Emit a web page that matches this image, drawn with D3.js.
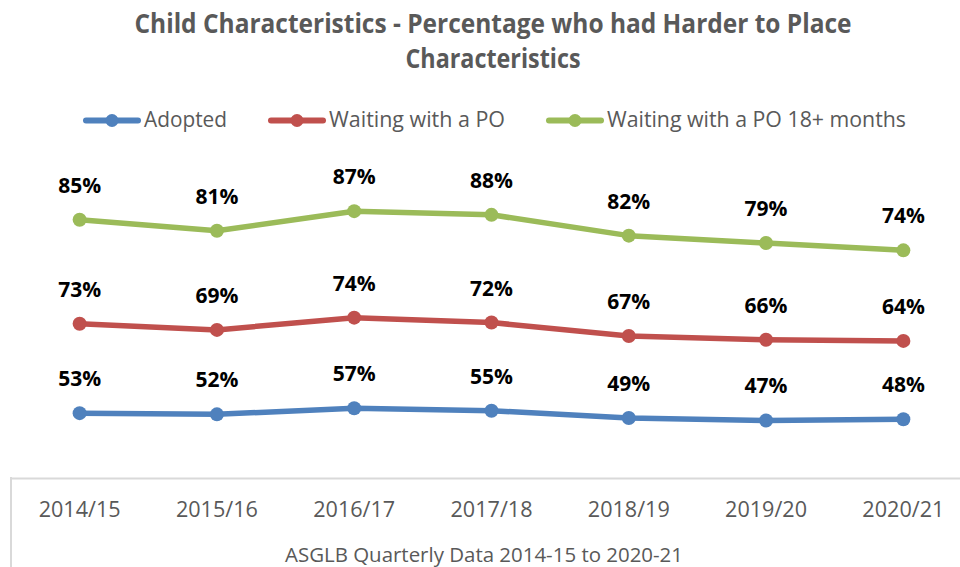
<!DOCTYPE html>
<html>
<head>
<meta charset="utf-8">
<script src="https://cdn.jsdelivr.net/npm/d3@7"></script>
<style>
  body { margin: 0; background: #fff; }
  svg { display: block; }
</style>
</head>
<body>
<div id="chart"></div>
<script>
/* Data */
const categories = ['2014/15', '2015/16', '2016/17', '2017/18', '2018/19', '2019/20', '2020/21'];
const adopted = [53, 52, 57, 55, 49, 47, 48];
const waitingPO = [73, 69, 74, 72, 67, 66, 64];
const waitingPO18 = [85, 81, 87, 88, 82, 79, 74];
const seriesNames = ['Adopted', 'Waiting with a PO', 'Waiting with a PO 18+ months'];
const titleLines = ['Child Characteristics - Percentage who had Harder to Place', 'Characteristics'];
const axisTitle = 'ASGLB Quarterly Data 2014-15 to 2020-21';

const colours = ['#4f81bd', '#c0504d', '#9bbb59'];
const width = 960,
  height = 567;
const narrow = '"Liberation Sans Narrow", "Open Sans", sans-serif';

const svg = d3
  .select('#chart')
  .append('svg')
  .attr('width', width)
  .attr('height', height);

// rows for the stack (it's a stacked line chart, labels show own values)
const rows = categories.map((c, i) => ({
  cat: c,
  [seriesNames[0]]: adopted[i],
  [seriesNames[1]]: waitingPO[i],
  [seriesNames[2]]: waitingPO18[i],
}));
const stacked = d3.stack().keys(seriesNames)(rows);

const x = d3.scaleBand().domain(categories).range([11, 972]);
const y = d3.scaleLinear().domain([0, 250]).range([478, 172]);
const cx = (d) => x(d) + x.bandwidth() / 2;

// Title
svg
  .append('g')
  .selectAll('text')
  .data(titleLines)
  .join('text')
  .attr('x', 493)
  .attr('y', (d, i) => 33 + i * 35)
  .attr('text-anchor', 'middle')
  .attr('textLength', (d, i) => (i == 0 ? 717 : 175))
  .attr('lengthAdjust', 'spacingAndGlyphs')
  .style('font-family', narrow)
  .style('font-weight', 'bold')
  .style('font-size', '26px')
  .style('fill', '#595959')
  .text((d) => d);

// Legend
const legendWidths = [83, 176, 299];
const itemW = legendWidths.map((w) => 56 + 4 + w);
const legendTotal = d3.sum(itemW) + 42 * (itemW.length - 1);
let lx = 495 - legendTotal / 2;
const legend = svg.append('g').attr('class', 'legend');
seriesNames.forEach((name, i) => {
  const g = legend.append('g').attr('transform', `translate(${lx}, 0)`);
  g.append('line')
    .attr('x1', 2)
    .attr('x2', 54)
    .attr('y1', 120.5)
    .attr('y2', 120.5)
    .attr('stroke', colours[i])
    .attr('stroke-width', 6)
    .attr('stroke-linecap', 'round');
  g.append('circle').attr('cx', 28).attr('cy', 120.5).attr('r', 6.5).attr('fill', colours[i]);
  g.append('text')
    .attr('x', 60)
    .attr('y', 127)
    .attr('textLength', legendWidths[i])
    .attr('lengthAdjust', 'spacingAndGlyphs')
    .style('font-family', narrow)
    .style('font-size', '21px')
    .style('fill', '#595959')
    .text(name);
  lx += itemW[i] + 42;
});

// X axis
const xAxis = svg
  .append('g')
  .attr('transform', `translate(0, ${y(0)})`)
  .call(d3.axisBottom(x).tickSize(0).tickSizeOuter(0));
xAxis.select('.domain').attr('stroke', '#d9d9d9').attr('stroke-width', 2);
xAxis
  .selectAll('.tick text')
  .attr('y', 39)
  .attr('dy', null)
  .attr('textLength', 82)
  .attr('lengthAdjust', 'spacingAndGlyphs')
  .style('font-family', narrow)
  .style('font-size', '21px')
  .style('fill', '#595959');

svg
  .append('line')
  .attr('x1', 11)
  .attr('x2', 11)
  .attr('y1', y(0) - 1)
  .attr('y2', height)
  .attr('stroke', '#d9d9d9')
  .attr('stroke-width', 2);

svg
  .append('text')
  .attr('x', 484)
  .attr('y', 562)
  .attr('text-anchor', 'middle')
  .attr('textLength', 398)
  .attr('lengthAdjust', 'spacingAndGlyphs')
  .style('font-family', narrow)
  .style('font-size', '20px')
  .style('fill', '#595959')
  .text(axisTitle);

// Lines
const line = d3
  .line()
  .x((d) => cx(d.data.cat))
  .y((d) => y(d[1]));

const series = svg
  .append('g')
  .selectAll('g.series')
  .data(stacked)
  .join('g')
  .attr('class', 'series');

series
  .append('path')
  .attr('d', line)
  .attr('fill', 'none')
  .attr('stroke', (d, i) => colours[i])
  .attr('stroke-width', 5.5)
  .attr('stroke-linejoin', 'round');

series
  .selectAll('circle')
  .data((d) => d.map((p) => ({ p, i: d.index })))
  .join('circle')
  .attr('cx', (d) => cx(d.p.data.cat))
  .attr('cy', (d) => y(d.p[1]))
  .attr('r', 7)
  .attr('fill', (d) => colours[d.i]);

// Data labels
series
  .selectAll('text')
  .data((d) => d.map((p) => ({ p, key: d.key })))
  .join('text')
  .attr('x', (d) => cx(d.p.data.cat))
  .attr('y', (d) => y(d.p[1]) - 27)
  .attr('text-anchor', 'middle')
  .style('font-family', '"Open Sans", sans-serif')
  .style('font-weight', 'bold')
  .style('font-size', '21px')
  .style('fill', '#000')
  .text((d) => d.p.data[d.key] + '%');
</script>
</body>
</html>
